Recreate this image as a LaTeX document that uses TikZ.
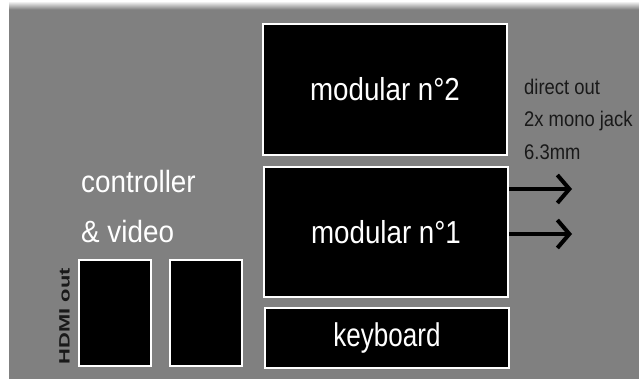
\documentclass[tikz,border=0pt]{standalone}
\usepackage{graphicx}
\usepackage{fontspec}
\setmainfont{Liberation Sans}
\usetikzlibrary{arrows.meta, calc}
\definecolor{bggray}{gray}{0.5}
\definecolor{ink}{gray}{0.1}
\newcommand\squeeze[2]{\scalebox{#1}[1.06]{#2}}% x factor, text

\begin{document}
\begin{tikzpicture}[x=1pt, y=-1pt,
  panel/.style={draw=white, line width=2pt, fill=black, text=white, inner sep=0pt},
  note/.style={inner sep=0pt, anchor=base west}]
\useasboundingbox (0,0) rectangle (639,379);
\fill [white] (0,0) rectangle (639,379);
\fill [bggray] (9,9) rectangle (639,379);
\shade [top color=white, bottom color=bggray] (9,1) rectangle (639,9.5);

\node [panel, minimum width=244pt, minimum height=131pt] (mod2) at (385,89.5) {\fontsize{30}{36}\selectfont\squeeze{0.925}{modular n°2}};
\node [panel, minimum width=244pt, minimum height=130pt] (mod1) at (386,232) {\fontsize{30}{36}\selectfont\squeeze{0.925}{modular n°1}};
\node [panel, minimum width=244pt, minimum height=60pt] (keys) at (387,338) {\fontsize{31}{38}\selectfont\squeeze{0.84}{keyboard}};

\node [panel, minimum width=72pt, minimum height=106pt] (hdmiA) at (115,313) {};
\node [panel, minimum width=72pt, minimum height=106pt] (hdmiB) at (206,313) {};
\node [inner sep=0pt, rotate=90, text=ink] (hdmi) at (64.5,316) {\fontsize{15}{18}\selectfont\bfseries\scalebox{1.46}[1]{HDMI out}};

\node [note, text=white] (ctrl) at (81,193) {\fontsize{29}{34}\selectfont\squeeze{0.96}{controller}};
\node [note, text=white] (video) at (81,242) {\fontsize{29}{34}\selectfont\squeeze{0.96}{\& video}};

\node [note, text=ink] (direct) at (524,95) {\fontsize{20}{24}\selectfont\squeeze{0.92}{direct out}};
\node [note, text=ink] (jack) at (524,127) {\fontsize{20}{24}\selectfont\squeeze{0.92}{2x mono jack}};
\node [note, text=ink] (size) at (524,160) {\fontsize{20}{24}\selectfont\squeeze{0.92}{6.3mm}};

\coordinate (out1) at (572,189);
\coordinate (out2) at (572,234);
\draw [line width=4pt, -{Straight Barb[length=12pt, width=28pt]}] (mod1.east |- out1) -- (out1);
\draw [line width=4pt, -{Straight Barb[length=12pt, width=28pt]}] (mod1.east |- out2) -- (out2);
\end{tikzpicture}
\end{document}
